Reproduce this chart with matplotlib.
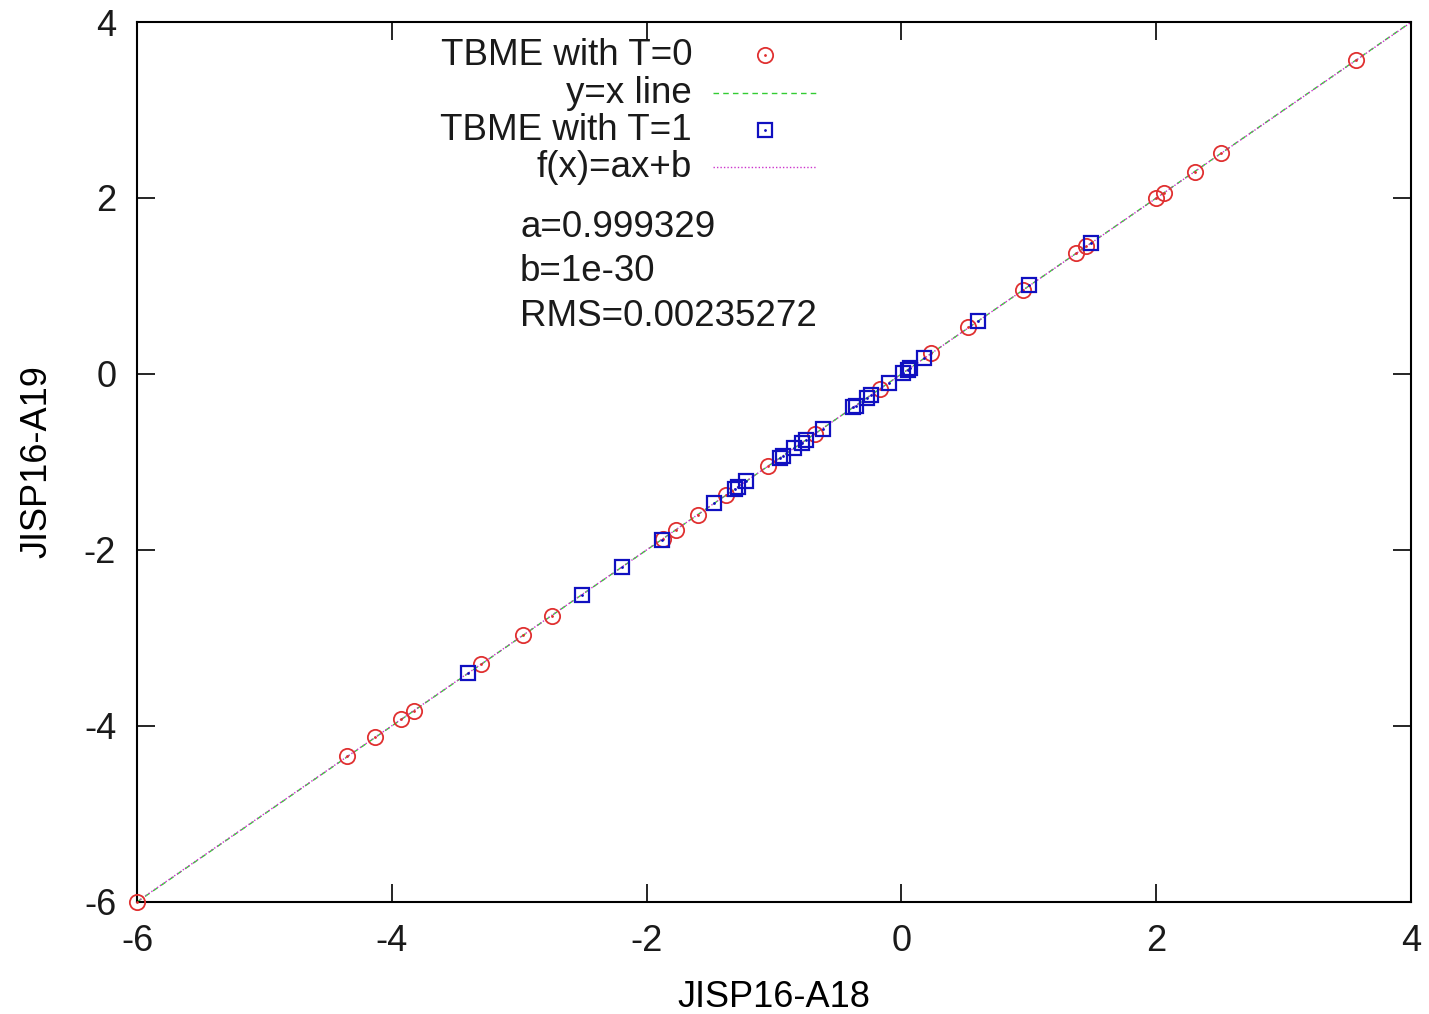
import numpy as np
import matplotlib
matplotlib.use('Agg')
import matplotlib.pyplot as plt

plt.rcParams['font.family'] = ['Liberation Sans', 'DejaVu Sans']
plt.rcParams['axes.unicode_minus'] = False
plt.rcParams['text.color'] = '#1a1a1a'
plt.rcParams['xtick.labelcolor'] = '#1a1a1a'
plt.rcParams['ytick.labelcolor'] = '#1a1a1a'

# TBME with T=0 (x: JISP16-A18, y: JISP16-A19)
t0_x = [-6.00, -4.35, -4.13, -3.93, -3.83, -3.30, -2.97, -2.74, -1.87, -1.77,
        -1.60, -1.38, -1.05, -0.68, -0.17, 0.23, 0.52, 0.95, 1.37, 1.45,
        2.00, 2.06, 2.30, 2.51, 3.57]
t0_y = [-6.00, -4.34, -4.13, -3.92, -3.83, -3.30, -2.97, -2.75, -1.87, -1.77,
        -1.60, -1.38, -1.05, -0.68, -0.17, 0.24, 0.53, 0.96, 1.38, 1.45,
        2.00, 2.06, 2.30, 2.51, 3.57]

# TBME with T=1
t1_x = [-3.40, -2.51, -2.19, -1.88, -1.47, -1.31, -1.28, -1.22, -0.95, -0.93,
        -0.84, -0.78, -0.75, -0.62, -0.38, -0.36, -0.27, -0.24, -0.10, 0.01,
        0.05, 0.07, 0.18, 0.60, 1.00, 1.49]
t1_y = [-3.40, -2.51, -2.19, -1.89, -1.47, -1.31, -1.28, -1.22, -0.95, -0.93,
        -0.84, -0.78, -0.75, -0.62, -0.38, -0.36, -0.27, -0.24, -0.10, 0.01,
        0.05, 0.07, 0.18, 0.60, 1.01, 1.49]

fit_a = 0.999329
fit_b = 1e-30
rms = 0.00235272

ticks = [-6, -4, -2, 0, 2, 4]

fig = plt.figure(figsize=(14.29, 10.14), dpi=100)
ax = fig.add_axes([0.0959, 0.1105, 0.8916, 0.8678])

line_x = np.array([-6, 4])
ax.plot(line_x, line_x, color='#33cc33', ls=(0, (4, 3)), lw=1, zorder=1)
ax.plot(line_x, fit_a * line_x + fit_b, color='#cc33cc', ls=(0, (1, 1.5)), lw=1, zorder=1)

ax.plot(t0_x, t0_y, ls='none', marker='o', ms=11, mfc='none', mec='#e03030', mew=1.3,
        zorder=3, clip_on=False)
ax.plot(t0_x, t0_y, ls='none', marker='.', ms=2, color='#e03030', zorder=3, clip_on=False)
ax.plot(t1_x, t1_y, ls='none', marker='s', ms=10.5, mfc='none', mec='#1010c0', mew=1.6,
        zorder=4, clip_on=False)
ax.plot(t1_x, t1_y, ls='none', marker='.', ms=2, color='#1010c0', zorder=4, clip_on=False)

ax.set_xlim(-6, 4)
ax.set_ylim(-6, 4)
ax.set_xticks(ticks)
ax.set_yticks(ticks)
ax.tick_params(direction='in', length=13, width=1.2, top=True, right=True,
               labelsize=26)
ax.tick_params(axis='x', pad=16)
ax.tick_params(axis='y', pad=15)
for s in ax.spines.values():
    s.set_linewidth(1.5)
ax.set_xlabel('JISP16-A18', fontsize=26, labelpad=15)
ax.set_ylabel('JISP16-A19', fontsize=26, labelpad=21)

# gnuplot-style key
fs = 26.5
rows = [0.962, 0.919, 0.877, 0.835]
labels = ['TBME with T=0', 'y=x line', 'TBME with T=1', 'f(x)=ax+b']
for yy, lab in zip(rows, labels):
    ax.text(0.4356, yy, lab, transform=ax.transAxes, ha='right', va='center', fontsize=fs)
ax.plot([0.493], [rows[0]], transform=ax.transAxes, marker='o', ms=11, mfc='none',
        mec='#e03030', mew=1.3, ls='none', clip_on=False)
ax.plot([0.493], [rows[0]], transform=ax.transAxes, marker='.', ms=2, color='#e03030', ls='none')
ax.plot([0.452, 0.534], [rows[1], rows[1]], transform=ax.transAxes, color='#33cc33',
        ls=(0, (4, 3)), lw=1)
ax.plot([0.493], [rows[2]], transform=ax.transAxes, marker='s', ms=10.5, mfc='none',
        mec='#1010c0', mew=1.6, ls='none')
ax.plot([0.493], [rows[2]], transform=ax.transAxes, marker='.', ms=2, color='#1010c0', ls='none')
ax.plot([0.452, 0.534], [rows[3], rows[3]], transform=ax.transAxes, color='#cc33cc',
        ls=(0, (1, 1.5)), lw=1)

ax.text(0.3006, 0.766, 'a=%g' % fit_a, transform=ax.transAxes, va='center', fontsize=fs)
ax.text(0.3006, 0.716, 'b=%g' % fit_b, transform=ax.transAxes, va='center', fontsize=fs)
ax.text(0.3006, 0.665, 'RMS=%g' % rms, transform=ax.transAxes, va='center', fontsize=fs)

fig.savefig('out.png', dpi=100)
